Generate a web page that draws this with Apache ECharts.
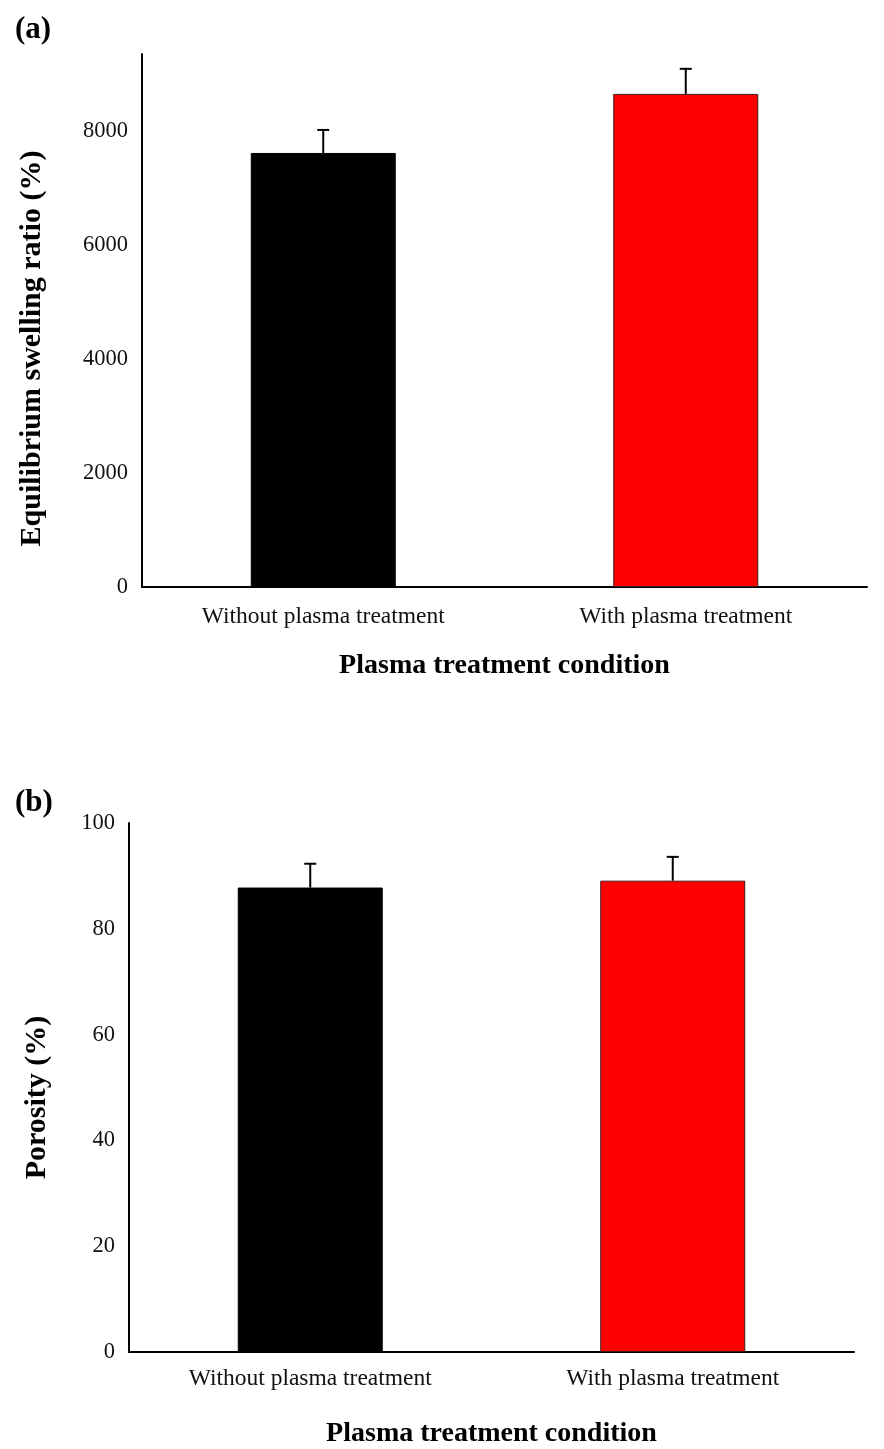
<!DOCTYPE html>
<html>
<head>
<meta charset="utf-8">
<script src="https://cdn.jsdelivr.net/npm/echarts@6/dist/echarts.min.js"></script>
<style>
html,body{margin:0;padding:0;background:#fff;}
#chart{width:884px;height:1449px;}
</style>
</head>
<body>
<div id="chart"></div>
<script>
var categories = ['Without plasma treatment', 'With plasma treatment'];
var swellingMean = [7614, 8650];
var swellingErr = [404, 440];
var porosityMean = [87.8, 89.1];
var porosityErr = [4.5, 4.5];
var barColors = ['#000000', '#ff0000'];
var swellingTicks = [0, 2000, 4000, 6000, 8000];
var porosityTicks = [0, 20, 40, 60, 80, 100];

var FONT = "'Liberation Serif','Times New Roman',serif";

function barData(vals) {
  return vals.map(function (v, i) {
    return { value: v, itemStyle: { color: barColors[i], borderColor: i === 0 ? '#000' : '#3a1a1a', borderWidth: 1 } };
  });
}
function errData(means, errs) {
  return means.map(function (m, i) { return [i, m, m + errs[i]]; });
}
function errRender(params, api) {
  var x = api.value(0);
  var lo = api.coord([x, api.value(1)]);
  var hi = api.coord([x, api.value(2)]);
  var half = 6;
  var st = { stroke: '#000', lineWidth: 2 };
  return {
    type: 'group',
    children: [
      { type: 'line', shape: { x1: lo[0], y1: lo[1], x2: hi[0], y2: hi[1] }, style: st },
      { type: 'line', shape: { x1: hi[0] - half, y1: hi[1], x2: hi[0] + half, y2: hi[1] }, style: st }
    ]
  };
}

function xAxisCfg(gridIndex, labelMargin, nameGap) {
  return {
    type: 'category', gridIndex: gridIndex, data: categories,
    axisLine: { lineStyle: { color: '#000', width: 2 } },
    axisTick: { show: false },
    axisLabel: { color: '#111', fontFamily: FONT, fontSize: 23.5, margin: labelMargin },
    name: 'Plasma treatment condition', nameLocation: 'middle', nameGap: nameGap,
    nameTextStyle: { color: '#000', fontFamily: FONT, fontSize: 28, fontWeight: 'bold' }
  };
}
function yAxisCfg(gridIndex, max, interval, name, nameGap, ticks, shiftDown) {
  return {
    type: 'value', gridIndex: gridIndex, min: 0, max: max, interval: interval,
    axisLine: { show: true, lineStyle: { color: '#000', width: 2 } },
    axisTick: { show: false },
    splitLine: { show: false },
    axisLabel: {
      color: '#111', fontFamily: FONT, fontSize: 22.5, margin: 14,
      formatter: function (v) { return ticks.indexOf(v) >= 0 ? String(v) : ''; }
    },
    name: name, nameLocation: 'middle', nameGap: nameGap, nameRotate: 90,
    nameTextStyle: { color: '#000', fontFamily: FONT, fontSize: 30, fontWeight: 'bold', padding: [0, shiftDown * 2, 0, 0] }
  };
}

var chart = echarts.init(document.getElementById('chart'));
chart.setOption({
  backgroundColor: '#ffffff',
  animation: false,
  title: [
    { text: '(a)', left: 10, top: 9, textStyle: { fontFamily: FONT, fontSize: 31, fontWeight: 'bold', color: '#000' } },
    { text: '(b)', left: 10, top: 782, textStyle: { fontFamily: FONT, fontSize: 31, fontWeight: 'bold', color: '#000' } }
  ],
  grid: [
    { left: 142, right: 17, top: 54, bottom: 862 },
    { left: 129, right: 30, top: 823, bottom: 93 }
  ],
  xAxis: [ xAxisCfg(0, 18, 65), xAxisCfg(1, 15, 68) ],
  yAxis: [
    yAxisCfg(0, 9350, 2000, 'Equilibrium swelling ratio (%)', 95, swellingTicks, 28),
    yAxisCfg(1, 100, 20, 'Porosity (%)', 77, porosityTicks, 10)
  ],
  series: [
    { type: 'bar', xAxisIndex: 0, yAxisIndex: 0, barWidth: '40%', data: barData(swellingMean) },
    { type: 'custom', xAxisIndex: 0, yAxisIndex: 0, renderItem: errRender, data: errData(swellingMean, swellingErr), z: 5 },
    { type: 'bar', xAxisIndex: 1, yAxisIndex: 1, barWidth: '40%', data: barData(porosityMean) },
    { type: 'custom', xAxisIndex: 1, yAxisIndex: 1, renderItem: errRender, data: errData(porosityMean, porosityErr), z: 5 }
  ]
});
</script>
</body>
</html>
